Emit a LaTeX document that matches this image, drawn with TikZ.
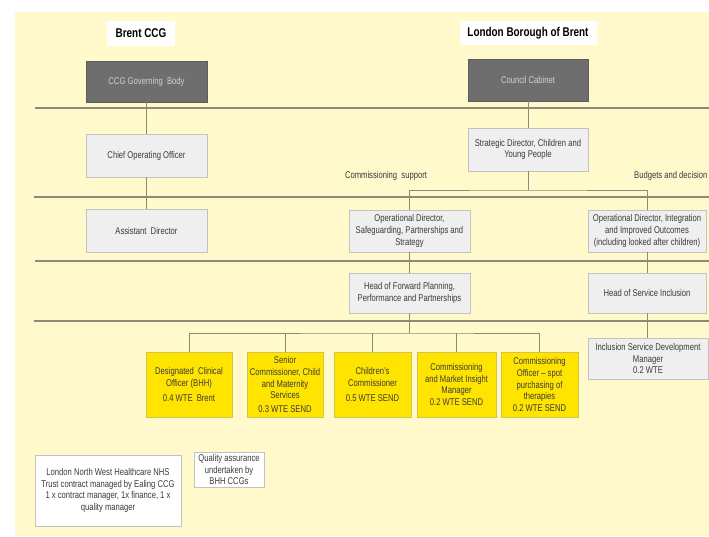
\documentclass[tikz,border=0pt]{standalone}
\usepackage{fontspec}
\setmainfont{Liberation Sans}[FakeStretch=0.78]
\usetikzlibrary{calc}

\definecolor{bgyellow}{HTML}{FFF9CC}
\definecolor{boxgrey}{HTML}{EFEFEF}
\definecolor{boxedge}{HTML}{C2C2C2}
\definecolor{darkbox}{HTML}{6E6E6E}
\definecolor{posty}{HTML}{FFE400}
\definecolor{postedge}{HTML}{D2C24E}
\definecolor{rulecol}{HTML}{8E8A78}
\definecolor{txtcol}{HTML}{3A3A3A}

\tikzset{
  boxfont/.style={font=\fontsize{9.8}{11.6}\selectfont},
  greybox/.style={boxfont, draw=boxedge, line width=0.7pt, fill=boxgrey, text=txtcol, align=center, inner sep=1pt},
  topbox/.style={boxfont, draw=darkbox!85!black, line width=0.7pt, fill=darkbox, text=black!18, align=center, inner sep=1pt},
  postbox/.style={boxfont, draw=postedge, line width=0.7pt, fill=posty, text=txtcol, align=center, inner sep=1pt},
  whitebox/.style={boxfont, draw=boxedge, line width=0.7pt, fill=white, text=txtcol, align=center, inner sep=1pt},
  heading/.style={font=\fontsize{12.7}{14}\selectfont\bfseries, fill=white, text=black, inner sep=0pt},
  sidelabel/.style={boxfont, text=txtcol, inner sep=0pt},
  tier/.style={draw=rulecol, line width=1.3pt},
  link/.style={draw=rulecol, line width=0.8pt}
}

\begin{document}
\begin{tikzpicture}[x=1pt, y=-1pt]

\useasboundingbox (0,0) rectangle (709,536);
\fill[bgyellow] (15,12) rectangle (709,536);

\draw[tier] (35,108) -- (709,108);
\draw[tier] (34,197) -- (709,197);
\draw[tier] (35,261) -- (709,261);
\draw[tier] (34,321) -- (709,321);

\node[heading, minimum width=68pt, minimum height=25pt] (brent) at (141, 33.5) {Brent CCG};
\node[heading, minimum width=137pt, minimum height=24pt] (lbb) at (528, 33) {London Borough of Brent};

\node[topbox, minimum width=121pt, minimum height=41pt] (gov) at (146.5, 81.5) {CCG Governing\ \ Body};
\node[greybox, minimum width=121pt, minimum height=43pt] (coo) at (146.5, 155.5) {Chief Operating Officer};
\node[greybox, minimum width=121pt, minimum height=43pt] (ad) at (146.5, 230.5) {Assistant\ \ Director};

\node[topbox, minimum width=120pt, minimum height=42pt] (cabinet) at (528, 80) {Council Cabinet};
\node[greybox, minimum width=120pt, minimum height=43pt] (strat) at (528, 149.5) {Strategic Director, Children and\\Young People};

\node[sidelabel] (commsup) at (386, 176) {Commissioning\ \ support};
\node[sidelabel, anchor=west] (budgets) at (634, 176) {Budgets and decision};

\node[greybox, minimum width=121pt, minimum height=42pt] (opsafe) at (409.5, 231) {Operational Director,\\Safeguarding, Partnerships and\\Strategy};
\node[greybox, minimum width=118pt, minimum height=42pt] (opint) at (647, 231) {Operational Director, Integration\\and Improved Outcomes\\(including looked after children)};

\node[greybox, minimum width=121pt, minimum height=40pt] (hfp) at (409.5, 293) {Head of Forward Planning,\\Performance and Partnerships};
\node[greybox, minimum width=118pt, minimum height=40pt] (hsi) at (647, 293) {Head of Service Inclusion};

\node[greybox, minimum width=120pt, minimum height=41pt] (isdm) at (648, 358.5) {Inclusion Service Development\\Manager\\0.2 WTE};

\node[postbox, minimum width=86pt, minimum height=65pt] (dco) at (189, 384.5) {Designated\ \ Clinical\\Officer (BHH)\\[3pt]0.4 WTE\ \ Brent};
\node[postbox, minimum width=76pt, minimum height=65pt] (senior) at (285, 384.5) {Senior\\Commissioner, Child\\and Maternity\\Services\\[2pt]0.3 WTE SEND};
\node[postbox, minimum width=77pt, minimum height=65pt] (childcom) at (372.5, 384.5) {Children's\\Commissioner\\[3pt]0.5 WTE SEND};
\node[postbox, minimum width=79pt, minimum height=65pt] (market) at (456.5, 384.5) {Commissioning\\and Market Insight\\Manager\\0.2 WTE SEND};
\node[postbox, minimum width=77pt, minimum height=65pt] (spot) at (539.5, 384.5) {Commissioning\\Officer -- spot\\purchasing of\\therapies\\0.2 WTE SEND};

\node[whitebox, minimum width=146pt, minimum height=71pt] (lnwh) at (108, 490.5) {London North West Healthcare NHS\\Trust contract managed by Ealing CCG\\1 x contract manager, 1x finance, 1 x\\quality manager};
\node[whitebox, minimum width=70pt, minimum height=35pt] (qa) at (229, 469.5) {Quality assurance\\undertaken by\\BHH CCGs};

\coordinate (split1) at (528, 190);
\coordinate (split2) at (409.5, 333);

\draw[link] (gov) -- (coo);
\draw[link] (coo) -- (ad);
\draw[link] (cabinet) -- (strat);
\draw[link] (strat) -- (split1);
\draw[link] (opsafe.north) |- (split1) -| (opint.north);
\draw[link] (opsafe) -- (hfp);
\draw[link] (opint) -- (hsi);
\draw[link] (hsi.south) -- (hsi.south |- isdm.north);
\draw[link] (hfp) -- (split2);
\draw[link] (dco.north) |- (split2) -| (spot.north);
\foreach \post in {senior, childcom, market}
  \draw[link] (\post.north) -- (\post.north |- split2);

\end{tikzpicture}
\end{document}
